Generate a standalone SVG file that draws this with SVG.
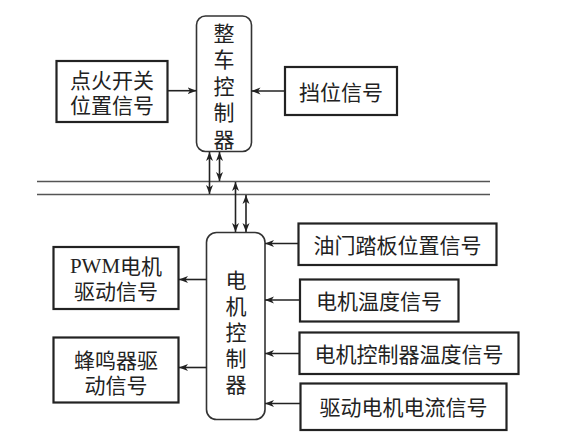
<svg xmlns="http://www.w3.org/2000/svg" width="569" height="447" viewBox="0 0 569 447">
<defs>
<marker id="ah" markerWidth="10" markerHeight="8" refX="9" refY="4" orient="auto" markerUnits="userSpaceOnUse">
<path d="M0,0.5 L9,4 L0,7.5 L2.5,4 Z" fill="#222"/>
</marker>
<marker id="as" markerWidth="10" markerHeight="8" refX="1" refY="4" orient="auto" markerUnits="userSpaceOnUse">
<path d="M10,0.5 L1,4 L10,7.5 L7.5,4 Z" fill="#222"/>
</marker>
</defs>
<style>
.box{fill:#fff;stroke:#222;stroke-width:2.2}
.ctl{fill:#fff;stroke:#333;stroke-width:1.6}
.t{font-family:"Noto Sans CJK SC","Liberation Sans",sans-serif;font-size:21px;fill:#222;text-anchor:middle;dominant-baseline:central}
.t2{font-family:"Liberation Sans","Noto Sans CJK SC",sans-serif}
.v{font-family:"Noto Sans CJK SC","Liberation Sans",sans-serif;font-size:21px;fill:#222;writing-mode:vertical-rl;text-anchor:start}
.s{font-family:"Liberation Serif",serif}
.c{stroke:#222;stroke-width:1.6;fill:none}
.bus{stroke:#555;stroke-width:1.5}
</style>
<rect width="569" height="447" fill="#fff"/>
<g id="bus">
<line class="bus" x1="37" y1="181.5" x2="490" y2="181.5"/>
<line class="bus" x1="37" y1="194.5" x2="490" y2="194.5"/>
</g>
<g id="vcu">
<rect class="ctl" x="196.5" y="16" width="55" height="135.5" rx="9"/>
<text class="v" x="224" y="22.5" letter-spacing="5.5">整车控制器</text>
</g>
<g id="ignition">
<rect class="box" x="56.5" y="61" width="111" height="61"/>
<text class="t t2" x="112" y="80">点火开关</text>
<text class="t t2" x="112" y="105">位置信号</text>
</g>
<g id="gear">
<rect class="box" x="285" y="67" width="112" height="48"/>
<text class="t" x="341" y="91">挡位信号</text>
</g>
<g id="mcu">
<rect class="ctl" x="206.5" y="232.5" width="58.5" height="187" rx="10"/>
<text class="v" x="236" y="269.5" letter-spacing="5">电机控制器</text>
</g>
<g id="pwm">
<rect class="box" x="53.5" y="247" width="125" height="62"/>
<text class="t t2" x="116" y="266"><tspan class="s">PWM</tspan>电机</text>
<text class="t t2" x="116" y="291">驱动信号</text>
</g>
<g id="buzzer">
<rect class="box" x="53.5" y="337.5" width="125" height="65"/>
<text class="t t2" x="116" y="360">蜂鸣器驱</text>
<text class="t t2" x="116" y="385">动信号</text>
</g>
<g id="throttle">
<rect class="box" x="298.5" y="223.5" width="198" height="41.5"/>
<text class="t" x="397.5" y="244">油门踏板位置信号</text>
</g>
<g id="motortemp">
<rect class="box" x="300" y="279.5" width="158.5" height="42"/>
<text class="t" x="379" y="300">电机温度信号</text>
</g>
<g id="mcutemp">
<rect class="box" x="299.5" y="332.5" width="219" height="41.5"/>
<text class="t" x="409" y="353">电机控制器温度信号</text>
</g>
<g id="current">
<rect class="box" x="300.5" y="383.5" width="206" height="46.5"/>
<text class="t" x="403.5" y="406">驱动电机电流信号</text>
</g>
<g id="connectors">
<line class="c" x1="168" y1="90.7" x2="196.5" y2="90.7" marker-end="url(#ah)"/>
<line class="c" x1="285" y1="91" x2="251.5" y2="91" marker-end="url(#ah)"/>
<line class="c" x1="209.5" y1="152" x2="209.5" y2="194" marker-start="url(#as)" marker-end="url(#ah)"/>
<line class="c" x1="219.5" y1="152" x2="219.5" y2="181" marker-start="url(#as)" marker-end="url(#ah)"/>
<line class="c" x1="235.5" y1="182" x2="235.5" y2="232" marker-start="url(#as)" marker-end="url(#ah)"/>
<line class="c" x1="246" y1="195" x2="246" y2="232" marker-start="url(#as)" marker-end="url(#ah)"/>
<line class="c" x1="206.5" y1="279.5" x2="179" y2="279.5" marker-end="url(#ah)"/>
<line class="c" x1="206.5" y1="367.5" x2="179" y2="367.5" marker-end="url(#ah)"/>
<line class="c" x1="298.5" y1="243.5" x2="265" y2="243.5" marker-end="url(#ah)"/>
<line class="c" x1="300" y1="300" x2="265" y2="300" marker-end="url(#ah)"/>
<line class="c" x1="299.5" y1="353.5" x2="265" y2="353.5" marker-end="url(#ah)"/>
<line class="c" x1="300.5" y1="403.5" x2="265" y2="403.5" marker-end="url(#ah)"/>
</g>
</svg>
